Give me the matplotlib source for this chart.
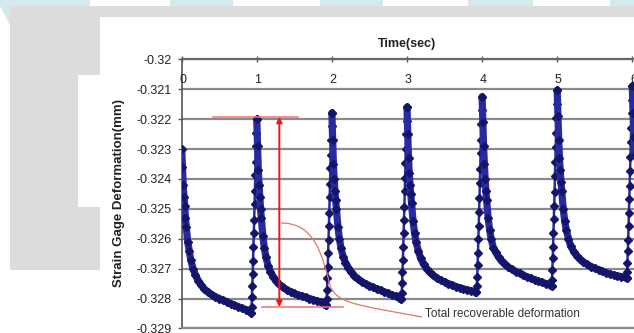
import matplotlib
matplotlib.use("Agg")
import matplotlib.pyplot as plt
import numpy as np
from matplotlib.patches import Rectangle, Polygon, PathPatch
from matplotlib.path import Path

plt.rcParams['font.family'] = ['Liberation Sans', 'DejaVu Sans']

# ---------------- data ----------------
cycle_start = [0, 1, 2, 3, 4, 5]
phase_decay = [0.0, 0.01, 0.02, 0.03, 0.04, 0.05, 0.06, 0.08, 0.10, 0.12, 0.15, 0.18,
               0.22, 0.26, 0.30, 0.35, 0.40, 0.45, 0.50, 0.55, 0.60, 0.65, 0.70, 0.75,
               0.80, 0.85, 0.90, 0.925]
phase_rise = [0.93, 0.935, 0.94, 0.945, 0.95, 0.955, 0.96, 0.965, 0.97, 0.975,
              0.98, 0.985, 0.99, 0.995]

decay_c0 = [-0.3230, -0.3236, -0.3242, -0.3246, -0.3249, -0.3253, -0.3256, -0.3261,
            -0.3264, -0.3267, -0.3270, -0.32720, -0.32740, -0.32755, -0.32768, -0.32778,
            -0.32787, -0.32794, -0.32800, -0.32806, -0.32811, -0.32817, -0.32822, -0.32827,
            -0.32832, -0.32837, -0.32843, -0.32848]
rise_c0 = [-0.32829, -0.32796, -0.32757, -0.32718, -0.32673, -0.32628, -0.32582,
           -0.32537, -0.32485, -0.32440, -0.32388, -0.32343, -0.32291, -0.32245]
decay_c1 = [-0.3220, -0.3229, -0.3237, -0.3242, -0.3246, -0.3250, -0.3253, -0.3259,
            -0.3263, -0.3266, -0.3269, -0.32710, -0.32728, -0.32742, -0.32753, -0.32763,
            -0.32771, -0.32777, -0.32783, -0.32788, -0.32792, -0.32796, -0.32800, -0.32804,
            -0.32808, -0.32812, -0.32817, -0.32822]
rise_c1 = [-0.32803, -0.32771, -0.32732, -0.32693, -0.32648, -0.32603, -0.32558,
           -0.32513, -0.32462, -0.32417, -0.32365, -0.32320, -0.32269, -0.32224]
decay_c2 = [-0.32179, -0.3227, -0.3235, -0.3240, -0.3244, -0.3247, -0.3250, -0.3256,
            -0.3260, -0.3263, -0.3266, -0.32680, -0.32697, -0.32712, -0.32724, -0.32735,
            -0.32744, -0.32751, -0.32757, -0.32763, -0.32768, -0.32773, -0.32778, -0.32783,
            -0.32788, -0.32792, -0.32797, -0.32800]
rise_c2 = [-0.32781, -0.32749, -0.32710, -0.32672, -0.32627, -0.32582, -0.32538,
           -0.32493, -0.32442, -0.32397, -0.32346, -0.32301, -0.32250, -0.32205]
decay_c3 = [-0.3216, -0.3225, -0.3233, -0.3238, -0.3242, -0.3245, -0.3248, -0.3254,
            -0.3258, -0.3261, -0.3264, -0.32665, -0.32685, -0.32700, -0.32712, -0.32723,
            -0.32732, -0.32739, -0.32745, -0.32750, -0.32755, -0.32760, -0.32764, -0.32768,
            -0.32771, -0.32774, -0.32777, -0.32779]
rise_c3 = [-0.32759, -0.32727, -0.32687, -0.32648, -0.32602, -0.32557, -0.32511,
           -0.32465, -0.32413, -0.32367, -0.32315, -0.32269, -0.32217, -0.32171]
decay_c4 = [-0.32125, -0.3221, -0.3229, -0.3235, -0.3240, -0.3244, -0.3247, -0.3253,
            -0.3257, -0.3260, -0.3263, -0.32645, -0.32662, -0.32675, -0.32685, -0.32695,
            -0.32703, -0.32710, -0.32716, -0.32722, -0.32728, -0.32733, -0.32738, -0.32742,
            -0.32746, -0.32750, -0.32755, -0.32758]
rise_c4 = [-0.32738, -0.32706, -0.32666, -0.32627, -0.32581, -0.32535, -0.32489,
           -0.32444, -0.32391, -0.32345, -0.32293, -0.32247, -0.32195, -0.32149]
decay_c5 = [-0.32103, -0.3219, -0.3227, -0.3233, -0.3237, -0.3241, -0.3244, -0.3250,
            -0.3254, -0.3257, -0.3260, -0.32625, -0.32643, -0.32657, -0.32668, -0.32678,
            -0.32686, -0.32693, -0.32699, -0.32704, -0.32709, -0.32714, -0.32718, -0.32721,
            -0.32724, -0.32727, -0.32729, -0.32731]
rise_c5 = [-0.32712, -0.32680, -0.32641, -0.32603, -0.32558, -0.32513, -0.32468,
           -0.32423, -0.32372, -0.32327, -0.32276, -0.32231, -0.32180, -0.32135]
end_time = [6.0, 6.01, 6.02, 6.03]
end_strain = [-0.3209, -0.3218, -0.3226, -0.3232]

xticks = [0, 1, 2, 3, 4, 5, 6]
xtick_labels = ['0', '1', '2', '3', '4', '5', '6']
yticks = [-0.32, -0.321, -0.322, -0.323, -0.324, -0.325, -0.326, -0.327, -0.328, -0.329]
ytick_labels = ['-0.32', '-0.321', '-0.322', '-0.323', '-0.324', '-0.325',
                '-0.326', '-0.327', '-0.328', '-0.329']

decays = [decay_c0, decay_c1, decay_c2, decay_c3, decay_c4, decay_c5]
rises = [rise_c0, rise_c1, rise_c2, rise_c3, rise_c4, rise_c5]

# ---------------- figure ----------------
W, H = 634, 333
fig = plt.figure(figsize=(W / 100, H / 100), dpi=100)
fig.patch.set_facecolor('white')


def fx(x):
    return x / W


def fy(y):
    return 1 - y / H


def frect(x0, y0, x1, y1, color):
    r = Rectangle((fx(x0), fy(y1)), fx(x1) - fx(x0), fy(y0) - fy(y1),
                  transform=fig.transFigure, facecolor=color, edgecolor='none', zorder=-5)
    fig.patches.append(r)


LB = '#d5e7ef'
GR = '#dcdcdc'
frect(0, 0, 634, 6, LB)
for a, b in [(90, 170), (233, 320), (383, 468), (533, 610)]:
    frect(a, 0, b, 6, 'white')
tri = Polygon([(fx(0), fy(0)), (fx(10), fy(0)), (fx(10), fy(25)), (fx(0), fy(6))],
              closed=True, transform=fig.transFigure, facecolor=LB, edgecolor='none', zorder=-5)
fig.patches.append(tri)
frect(10, 6, 634, 17, GR)
frect(10, 17, 100, 270, GR)
frect(78, 75, 100, 207, 'white')

# axes
x0_px, xpx_per = 181.7, 75.1
ytop_px, ybot_px = 59.3, 328.4
ax = fig.add_axes([fx(x0_px), fy(ybot_px), 7 * xpx_per / W, (ybot_px - ytop_px) / H])
ax.set_xlim(0, 7)
ax.set_ylim(-0.329, -0.32)
ax.patch.set_facecolor('white')

ax.set_yticks(yticks)
ax.set_yticklabels(ytick_labels)
ax.yaxis.grid(True, color='#8a8a8a', lw=1.6)
ax.set_axisbelow(True)
ax.tick_params(axis='y', direction='out', length=3, width=1, color='#555555',
               pad=4.5, labelsize=9, labelcolor='#222222')

ax.xaxis.tick_top()
ax.set_xticks(xticks)
ax.set_xticklabels([])
ax.tick_params(axis='x', direction='inout', length=5, width=1, color='#555555')
for xt, lab in zip(xticks, xtick_labels):
    ax.text(xt + 0.015, -0.32069, lab, ha='center', va='center', fontsize=9,
            color='#222222')

ax.spines['right'].set_visible(False)
ax.spines['top'].set_color('#666666')
ax.spines['top'].set_linewidth(1.6)
ax.spines['left'].set_color('#555555')
ax.spines['left'].set_linewidth(1.2)
ax.spines['bottom'].set_color('#8a8a8a')
ax.spines['bottom'].set_linewidth(1.6)

# data
LINE = '#2a2aa0'
MARK = '#141468'
next_first_t = [s + 1 for s in cycle_start]
next_first_v = [d[0] for d in decays[1:]] + [end_strain[0]]
for s, dec, ris, nt, nv in zip(cycle_start, decays, rises, next_first_t, next_first_v):
    td = np.array(phase_decay) + s
    ax.plot(td, dec, color=LINE, lw=5.2, solid_capstyle='round', solid_joinstyle='round',
            marker='D', ms=4.2, mfc=MARK, mec=MARK, zorder=3)
    tr = np.concatenate([[td[-1]], np.array(phase_rise) + s, [nt]])
    vr = np.concatenate([[dec[-1]], ris, [nv]])
    ax.plot(tr, vr, color=LINE, lw=1.8, marker='D', ms=3.8, mfc=MARK, mec=MARK, zorder=3)
ax.plot(end_time, end_strain, color=LINE, lw=5.2, solid_capstyle='round', marker='D',
        ms=4.2, mfc=MARK, mec=MARK, zorder=3)

# annotation: recoverable deformation
ax.plot([0.421, 1.553], [-0.32192, -0.32192], color='#f07070', lw=1.1, zorder=4)
ax.plot([1.073, 2.152], [-0.32829, -0.32829], color='#f07070', lw=1.1, zorder=4)
ax.annotate('', xy=(1.30, -0.32192), xytext=(1.30, -0.32829),
            arrowprops=dict(arrowstyle='<|-|>', color='#ff1010', lw=1.4,
                            mutation_scale=8, shrinkA=0, shrinkB=0), zorder=5)
verts = [(1.322, -0.325475), (1.775, -0.325475), (1.868, -0.32654), (1.975, -0.32755),
         (2.028, -0.32798), (2.175, -0.32815), (2.681, -0.32838), (3.20, -0.32862)]
codes = [Path.MOVETO, Path.CURVE4, Path.CURVE4, Path.CURVE4,
         Path.CURVE4, Path.CURVE4, Path.CURVE4, Path.LINETO]
ax.add_patch(PathPatch(Path(verts, codes), facecolor='none', edgecolor='#e07868',
                       lw=0.9, zorder=4))
ax.text(3.24, -0.32852, 'Total recoverable deformation', ha='left', va='center',
        fontsize=8.5, color='#333333')

fig.text(fx(407), fy(44), 'Time(sec)', ha='center', va='center', fontsize=9,
         fontweight='bold', color='#222222')
fig.text(fx(119), fy(193), 'Strain Gage Deformation(mm)', ha='center', va='center',
         rotation=90, fontsize=9.5, fontweight='bold', color='#222222')

fig.savefig('out.png', dpi=100)
